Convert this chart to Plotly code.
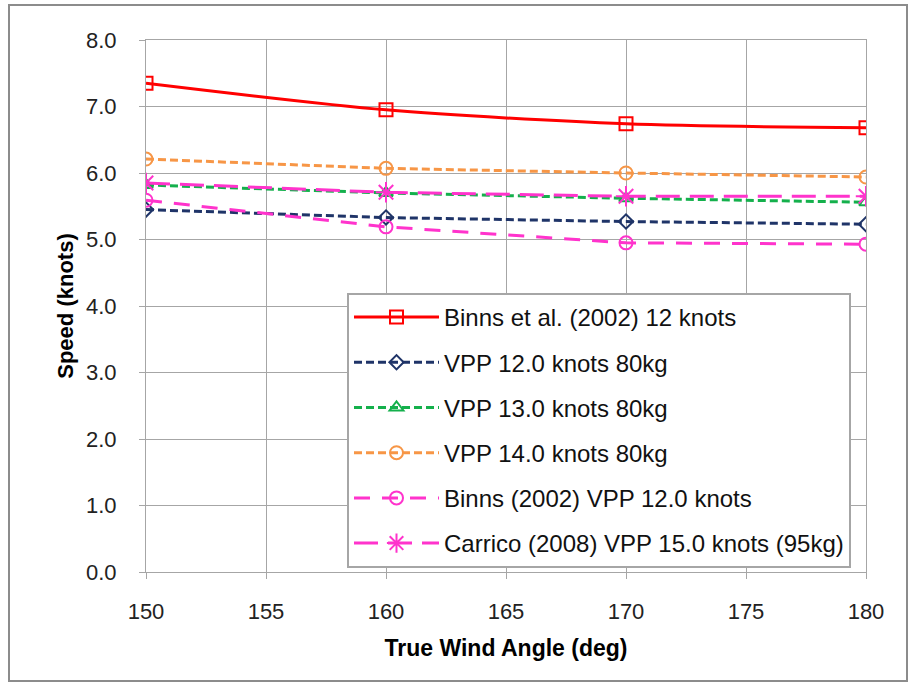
import plotly.graph_objects as go

# True wind angle (deg) and boat speed (knots) per source
twa = [150, 160, 170, 180]
binns_2002_12kn = [7.35, 6.95, 6.74, 6.68]
vpp_12kn_80kg = [5.45, 5.33, 5.27, 5.23]
vpp_13kn_80kg = [5.82, 5.70, 5.62, 5.56]
vpp_14kn_80kg = [6.21, 6.07, 6.00, 5.94]
binns_vpp_12kn = [5.59, 5.19, 4.95, 4.93]
carrico_vpp_15kn = [5.85, 5.71, 5.65, 5.65]

x_ticks = [150, 155, 160, 165, 170, 175, 180]
y_ticks = [0, 1, 2, 3, 4, 5, 6, 7, 8]

FONT = "Liberation Sans"

series = [
    ("Binns et al. (2002) 12 knots", binns_2002_12kn, "#FF0000", "solid", "square-open", 13, "spline"),
    ("VPP 12.0 knots 80kg", vpp_12kn_80kg, "#1F3468", "8px,4px", "diamond-open", 11, "linear"),
    ("VPP 13.0 knots 80kg", vpp_13kn_80kg, "#14B04C", "8px,4px", "triangle-up-open", 12, "linear"),
    ("VPP 14.0 knots 80kg", vpp_14kn_80kg, "#F79646", "8px,4px", "circle-open", 13, "linear"),
    ("Binns (2002) VPP 12.0 knots", binns_vpp_12kn, "#FF33CC", "16px,12px", "circle-open", 13, "linear"),
    ("Carrico (2008) VPP 15.0 knots (95kg)", carrico_vpp_15kn, "#FF33CC", "24px,10px", "asterisk-open", 17, "linear"),
]

fig = go.Figure()
for i, (name, ys, color, dash, symbol, size, shape) in enumerate(series):
    fig.add_trace(go.Scatter(
        x=twa, y=ys, name=name, mode="lines+markers",
        legendgroup=f"g{i}",
        line=dict(color=color, width=3, dash=dash, shape=shape, smoothing=0.8),
        marker=dict(symbol=symbol, size=size, color=color, line=dict(color=color, width=2)),
    ))

axis_common = dict(
    showgrid=True, gridcolor="#A6A6A6", gridwidth=1,
    showline=True, linecolor="#A6A6A6", linewidth=1,
    ticks="outside", ticklen=6, tickcolor="#A6A6A6",
    zeroline=False,
    tickfont=dict(family=FONT, size=22, color="#222222"),
)

fig.update_xaxes(
    range=[150, 180], tickvals=x_ticks, ticktext=[str(v) for v in x_ticks],
    ticklabelstandoff=14,
    title=dict(text="<b>True Wind Angle (deg)</b>", font=dict(family=FONT, size=23, color="#000000"), standoff=16),
    mirror=True,
    **axis_common,
)
fig.update_yaxes(
    range=[0, 8], tickvals=y_ticks, ticktext=[f"{v:.1f}" for v in y_ticks],
    ticklabelstandoff=18,
    title=dict(text="<b>Speed (knots)</b>", font=dict(family=FONT, size=22, color="#000000"), standoff=6),
    mirror=True,
    **axis_common,
)

# outer chart border
fig.add_shape(type="rect", xref="paper", yref="paper",
              x0=(9 - 146) / 720, x1=(907 - 146) / 720,
              y0=(572 - 681) / 532, y1=(572 - 5) / 532,
              line=dict(color="#8C8C8C", width=2), fillcolor="rgba(0,0,0,0)", layer="below")

fig.update_layout(
    width=914, height=684,
    margin=dict(l=146, r=48, t=40, b=112),
    paper_bgcolor="white", plot_bgcolor="white",
    font=dict(family=FONT),
    legend=dict(
        x=(347 - 146) / 720, y=(572 - 293) / 532, xanchor="left", yanchor="top",
        bgcolor="white", bordercolor="#A6A6A6", borderwidth=2,
        font=dict(family=FONT, size=24, color="#111111"),
        tracegroupgap=11, itemwidth=85,
    ),
)

fig.write_html("out.html")
